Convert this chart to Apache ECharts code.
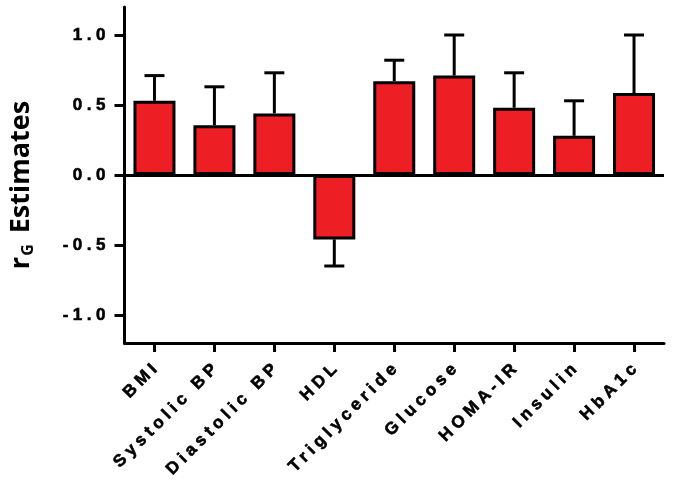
<!DOCTYPE html>
<html>
<head>
<meta charset="utf-8">
<script src="https://cdn.jsdelivr.net/npm/echarts@6/dist/echarts.min.js"></script>
<style>
html,body{margin:0;padding:0;background:#fff;}
#chart{width:676px;height:485px;}
</style>
</head>
<body>
<div id="chart"></div>
<script>
var categories = ['BMI', 'Systolic BP', 'Diastolic BP', 'HDL', 'Triglyceride', 'Glucose', 'HOMA-IR', 'Insulin', 'HbA1c'];
var estimates = [0.53, 0.355, 0.44, -0.46, 0.67, 0.71, 0.48, 0.28, 0.585];
var errorEnds = [0.71, 0.63, 0.73, -0.65, 0.82, 1.0, 0.73, 0.53, 1.0];
var yTicks = [-1.0, -0.5, 0.0, 0.5, 1.0];

// Letter-spaced tick labels (the reference uses widely tracked bold sans text)
(function () {
  var proto = CanvasRenderingContext2D.prototype;
  function wrap(name) {
    var orig = proto[name];
    proto[name] = function (t, x, y, m) {
      if (/Liberation Sans/.test(this.font) && 'letterSpacing' in this) {
        var prev = this.letterSpacing;
        var sp = 4.5;
        this.letterSpacing = sp + 'px';
        if (this.textAlign === 'right' || this.textAlign === 'end') x += sp;
        else if (this.textAlign === 'center') x += sp / 2;
        var r = m === undefined ? orig.call(this, t, x, y) : orig.call(this, t, x, y, m);
        this.letterSpacing = prev;
        return r;
      }
      return m === undefined ? orig.call(this, t, x, y) : orig.call(this, t, x, y, m);
    };
  }
  wrap('fillText');
  wrap('strokeText');
})();

var chart = echarts.init(document.getElementById('chart'));
var tickFont = 'Liberation Sans';
var errData = categories.map(function (c, i) { return [i, estimates[i], errorEnds[i]]; });

chart.setOption({
  animation: false,
  grid: { left: 124, right: 12, top: 7, bottom: 142, containLabel: false },
  xAxis: {
    type: 'category',
    data: categories,
    axisLine: { onZero: false, lineStyle: { color: '#000', width: 3 } },
    axisTick: { show: true, alignWithLabel: true, length: 9, lineStyle: { color: '#000', width: 3 } },
    axisLabel: {
      interval: 0, rotate: 45, margin: 24,
      color: '#000', fontFamily: tickFont, fontWeight: 'bold', fontSize: 17,
      textBorderColor: '#000', textBorderWidth: 0.6
    },
    splitLine: { show: false }
  },
  yAxis: {
    type: 'value',
    min: -1.2, max: 1.2,
    name: '{r|r}{g|G}{e|Estimates}',
    nameLocation: 'middle',
    nameGap: 88,
    nameRotate: 90,
    nameTextStyle: {
      color: '#000',
      padding: [0, 20, 0, 0],
      rich: {
        r: { fontFamily: 'Open Sans', fontWeight: 'bold', fontSize: 27, color: '#000' },
        g: { fontFamily: 'Open Sans', fontWeight: 'bold', fontSize: 16, color: '#000', verticalAlign: 'bottom', padding: [14, 0, 0, 1] },
        e: { fontFamily: 'Open Sans', fontWeight: 'bold', fontSize: 27, color: '#000', padding: [0, 0, 0, 11] }
      }
    },
    axisLine: { show: true, lineStyle: { color: '#000', width: 3 } },
    axisTick: { show: true, length: 10, lineStyle: { color: '#000', width: 3 }, customValues: yTicks },
    axisLabel: {
      margin: 19, color: '#000', fontFamily: tickFont, fontWeight: 'bold', fontSize: 17,
      textBorderColor: '#000', textBorderWidth: 0.6,
      customValues: yTicks,
      formatter: function (v) { return v.toFixed(1); }
    },
    splitLine: { show: false }
  },
  series: [
    {
      type: 'custom',
      z: 1,
      data: errData,
      renderItem: function (params, api) {
        var i = api.value(0);
        var p0 = api.coord([i, api.value(1)]);
        var p1 = api.coord([i, api.value(2)]);
        var half = 10;
        return {
          type: 'group',
          children: [
            { type: 'line', shape: { x1: p0[0], y1: p0[1], x2: p1[0], y2: p1[1] }, style: { stroke: '#000', lineWidth: 3 } },
            { type: 'line', shape: { x1: p1[0] - half, y1: p1[1], x2: p1[0] + half, y2: p1[1] }, style: { stroke: '#000', lineWidth: 3 } }
          ]
        };
      }
    },
    {
      type: 'bar',
      z: 2,
      data: estimates,
      barWidth: 42,
      itemStyle: { color: '#ee1f24', borderColor: '#000', borderWidth: 3 },
      markLine: {
        silent: true,
        symbol: 'none',
        label: { show: false },
        lineStyle: { color: '#000', width: 3, type: 'solid' },
        data: [{ yAxis: 0 }]
      }
    }
  ]
});
</script>
</body>
</html>
